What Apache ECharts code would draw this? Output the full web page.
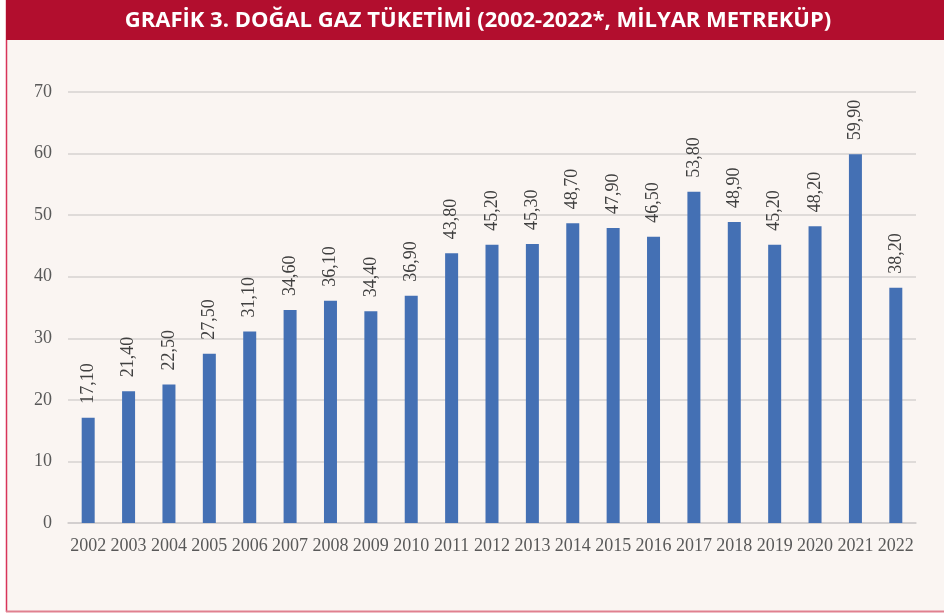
<!DOCTYPE html>
<html>
<head>
<meta charset="utf-8">
<script src="https://cdn.jsdelivr.net/npm/echarts@6/dist/echarts.min.js"></script>
<style>
  html, body { margin: 0; padding: 0; background: #fff; }
  #chart { width: 944px; height: 615px; }
</style>
</head>
<body>
<div id="chart"></div>
<script>
// Doğal gaz tüketimi, milyar m3
const years = ['2002', '2003', '2004', '2005', '2006', '2007', '2008', '2009', '2010', '2011',
  '2012', '2013', '2014', '2015', '2016', '2017', '2018', '2019', '2020', '2021', '2022'];
const consumption = [17.1, 21.4, 22.5, 27.5, 31.1, 34.6, 36.1, 34.4, 36.9, 43.8,
  45.2, 45.3, 48.7, 47.9, 46.5, 53.8, 48.9, 45.2, 48.2, 59.9, 38.2];
const titleText = 'GRAFİK 3. DOĞAL GAZ TÜKETİMİ (2002-2022*, MİLYAR METREKÜP)';

const chart = echarts.init(document.getElementById('chart'));
const serif = '"Liberation Serif", "Times New Roman", serif';

const option = {
  backgroundColor: '#ffffff',
  animation: false,
  graphic: [
    // panel
    { type: 'rect', z: -10, shape: { x: 6, y: 0, width: 938, height: 612 },
      style: { fill: '#faf5f2' } },
    { type: 'line', z: -9, shape: { x1: 6.5, y1: 0, x2: 6.5, y2: 612 },
      style: { stroke: '#d8345a', lineWidth: 1.5 } },
    { type: 'line', z: -9, shape: { x1: 6, y1: 611.5, x2: 944, y2: 611.5 },
      style: { stroke: '#e0808f', lineWidth: 2 } },
    // header
    { type: 'rect', z: -8, shape: { x: 6, y: 0, width: 938, height: 40 },
      style: { fill: '#b20e2e' } },
    { type: 'text', z: 10, x: 478, y: 21,
      style: {
        text: titleText, fill: '#ffffff', align: 'center', verticalAlign: 'middle',
        font: 'bold 22px "Open Sans", "Noto Sans", sans-serif'
      } }
  ],
  grid: { left: 68, right: 28, top: 92, bottom: 92, containLabel: false },
  xAxis: {
    type: 'category',
    data: years,
    axisLine: { lineStyle: { color: '#d0cccb', width: 1.5 } },
    axisTick: { show: false },
    axisLabel: { color: '#595959', fontFamily: serif, fontSize: 18, margin: 14, interval: 0 }
  },
  yAxis: {
    type: 'value',
    min: 0,
    max: 70,
    interval: 10,
    axisLine: { show: false },
    axisTick: { show: false },
    splitLine: { lineStyle: { color: '#d6d2d0', width: 1.5 } },
    axisLabel: { color: '#595959', fontFamily: serif, fontSize: 18, margin: 16 }
  },
  series: [{
    type: 'bar',
    data: consumption,
    barWidth: 13,
    itemStyle: { color: '#4470b4' },
    label: {
      show: true,
      position: 'top',
      rotate: 90,
      align: 'left',
      verticalAlign: 'middle',
      distance: 14,
      color: '#404040',
      fontFamily: serif,
      fontSize: 18,
      formatter: p => p.value.toFixed(2).replace('.', ',')
    }
  }]
};
chart.setOption(option);
</script>
</body>
</html>
